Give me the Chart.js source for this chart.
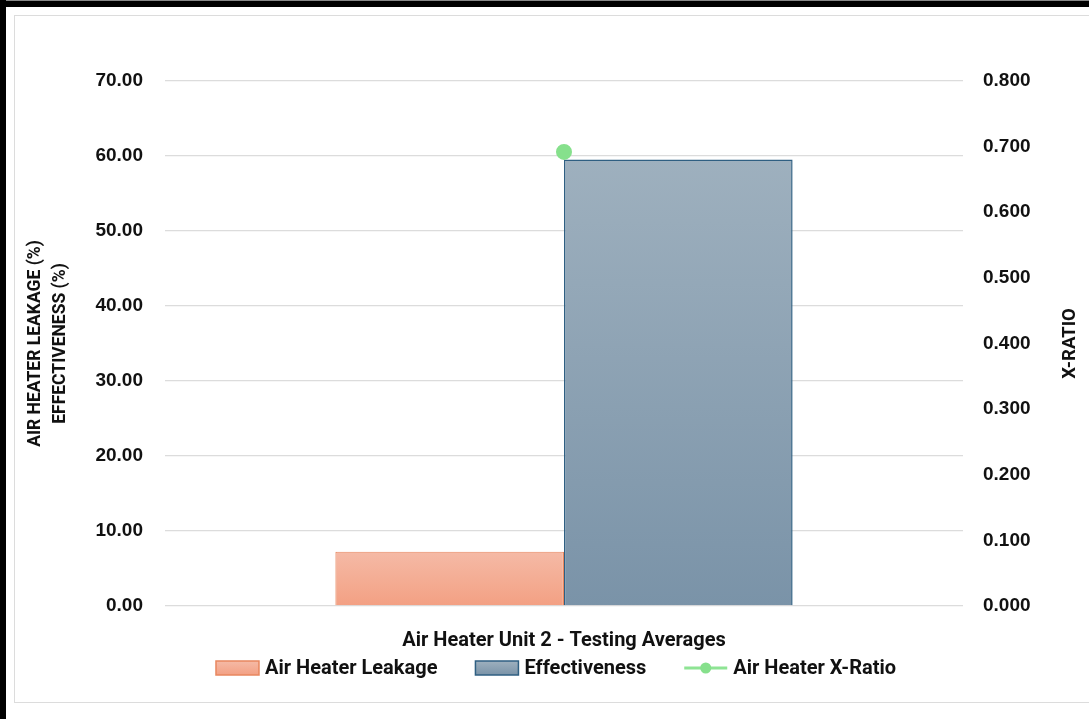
<!DOCTYPE html>
<html>
<head>
<meta charset="utf-8">
<title>Air Heater Unit 2 - Testing Averages</title>
<script src="https://cdn.jsdelivr.net/npm/chart.js@4/dist/chart.umd.min.js"></script>
<style>
  html, body { margin: 0; padding: 0; background: #ffffff; }
  body { width: 1089px; height: 719px; position: relative; overflow: hidden; }
  #topbar { position: absolute; left: 0; top: 1px; width: 1089px; height: 6px; background: #000; }
  #sidebar { position: absolute; left: 0; top: 0; width: 6px; height: 719px; background: #000; }
  #topline { position: absolute; left: 0; top: 0; width: 1089px; height: 1px; background: #888; }
  #frame { position: absolute; left: 14px; top: 15px; width: 1100px; height: 686px; border: 1.5px solid #dcdcdc; }
  #wrap { position: absolute; left: 0; top: 0; width: 1089px; height: 719px; }
</style>
</head>
<body>
<div id="topline"></div>
<div id="topbar"></div>
<div id="sidebar"></div>
<div id="frame"></div>
<div id="wrap"><canvas id="chart" width="1089" height="719"></canvas></div>
<script>
// Category and series values
const categories = ['Air Heater Unit 2 - Testing Averages'];
const leakage = [7.25];
const effectiveness = [59.55];
const xRatio = [0.692];

// Axis ranges / tick steps
const leftTicks = { min: 0, max: 70, step: 10 };
const rightTicks = { min: 0, max: 0.8, step: 0.1 };

const seriesNames = ['Air Heater Leakage', 'Effectiveness', 'Air Heater X-Ratio'];

const tickFont = { family: '"Liberation Sans", Arial, sans-serif', size: 19, weight: 'bold' };
const labelFamily = 'Roboto, "Liberation Sans", sans-serif';

function barGradient(top, bottom) {
  return function (ctx) {
    const chart = ctx.chart;
    if (!chart.chartArea || ctx.dataIndex === undefined) return bottom;
    const y = chart.scales.y;
    const v = ctx.dataset.data[ctx.dataIndex];
    const y0 = y.getPixelForValue(v);
    const y1 = y.getPixelForValue(0);
    const g = chart.ctx.createLinearGradient(0, y0, 0, y1);
    g.addColorStop(0, top);
    g.addColorStop(1, bottom);
    return g;
  };
}

// Legend drawn beneath the category label: boxes for bars, line+dot for the ratio
const bottomLegend = {
  id: 'bottomLegend',
  afterDraw(chart) {
    const ctx = chart.ctx;
    const y = 668;
    ctx.save();
    ctx.font = 'bold 20px ' + labelFamily;
    ctx.textBaseline = 'middle';
    ctx.textAlign = 'left';
    const sym = 43, gapSym = 6, gapItem = 38;
    const items = chart.data.datasets.map(ds => ({ ds, w: sym + gapSym + ctx.measureText(ds.label).width }));
    const total = items.reduce((s, it) => s + it.w, 0) + gapItem * (items.length - 1);
    let x = 556 - total / 2;
    items.forEach(it => {
      const ds = it.ds;
      if (ds.type === 'line') {
        ctx.strokeStyle = ds.borderColor;
        ctx.lineWidth = 3;
        ctx.beginPath();
        ctx.moveTo(x, y);
        ctx.lineTo(x + sym, y);
        ctx.stroke();
        ctx.fillStyle = ds.pointBackgroundColor;
        ctx.beginPath();
        ctx.arc(x + sym / 2, y, 5.5, 0, Math.PI * 2);
        ctx.fill();
      } else {
        const g = ctx.createLinearGradient(0, y - 7, 0, y + 7);
        g.addColorStop(0, ds.legendTop);
        g.addColorStop(1, ds.legendBottom);
        ctx.fillStyle = g;
        ctx.fillRect(x, y - 7, sym, 14);
        ctx.strokeStyle = ds.borderColor;
        ctx.lineWidth = 1.5;
        ctx.strokeRect(x, y - 7, sym, 14);
      }
      ctx.fillStyle = '#111111';
      ctx.fillText(ds.label, x + sym + gapSym, y + 1);
      x += it.w + gapItem;
    });
    ctx.restore();
  }
};

// Right-hand axis title, reading bottom-to-top like the left one
const rightTitle = {
  id: 'rightTitle',
  afterDraw(chart) {
    const s = chart.scales.y1;
    const ctx = chart.ctx;
    ctx.save();
    ctx.translate(1070, (s.top + s.bottom) / 2);
    ctx.rotate(-Math.PI / 2);
    ctx.font = 'bold 18.5px ' + labelFamily;
    ctx.fillStyle = '#111111';
    ctx.textAlign = 'center';
    ctx.textBaseline = 'middle';
    ctx.fillText('X-RATIO', 0, 0);
    ctx.restore();
  }
};

new Chart(document.getElementById('chart'), {
  data: {
    labels: categories,
    datasets: [
      {
        type: 'bar',
        label: seriesNames[0],
        data: leakage,
        yAxisID: 'y',
        backgroundColor: barGradient('#f5baa6', '#f3a083'),
        legendTop: '#f5baa6',
        legendBottom: '#f3a083',
        borderColor: '#e8875f',
        borderWidth: 1.2,
        categoryPercentage: 0.573,
        barPercentage: 1,
        order: 1
      },
      {
        type: 'bar',
        label: seriesNames[1],
        data: effectiveness,
        yAxisID: 'y',
        backgroundColor: barGradient('#9eb0be', '#7a93a8'),
        legendTop: '#9eb0be',
        legendBottom: '#7a93a8',
        borderColor: '#2f5f82',
        borderWidth: 1.5,
        categoryPercentage: 0.573,
        barPercentage: 1,
        order: 1
      },
      {
        type: 'line',
        label: seriesNames[2],
        data: xRatio,
        yAxisID: 'y1',
        borderColor: '#8ee494',
        pointBackgroundColor: '#86e08c',
        pointBorderColor: '#86e08c',
        pointRadius: 6.5,
        borderWidth: 3,
        order: 0
      }
    ]
  },
  options: {
    responsive: false,
    animation: false,
    devicePixelRatio: 1,
    layout: { padding: { left: 0, right: 0, top: 81, bottom: 68 } },
    plugins: {
      legend: { display: false },
      tooltip: { enabled: false }
    },
    scales: {
      x: {
        grid: { display: false },
        border: { display: false },
        ticks: { color: '#111111', font: { family: labelFamily, size: 20, weight: 'bold' }, padding: 15 },
        afterFit(scale) { scale.height = 45; }
      },
      y: {
        position: 'left',
        min: leftTicks.min,
        max: leftTicks.max,
        ticks: {
          stepSize: leftTicks.step,
          padding: 22,
          color: '#111111',
          font: tickFont,
          callback: v => Number(v).toFixed(2)
        },
        grid: { color: '#dcdcdc', lineWidth: 1.3, drawTicks: false },
        border: { display: false },
        title: {
          display: true,
          text: ['AIR HEATER LEAKAGE (%)', 'EFFECTIVENESS (%)'],
          color: '#111111',
          font: { family: labelFamily, size: 17.5, weight: 'bold', lineHeight: 1.45 },
          padding: { top: 23 }
        },
        afterFit(scale) { scale.width = 165; }
      },
      y1: {
        position: 'right',
        min: rightTicks.min,
        max: rightTicks.max,
        ticks: {
          stepSize: rightTicks.step,
          padding: 20,
          color: '#111111',
          font: tickFont,
          callback: v => Number(v).toFixed(3)
        },
        grid: { display: false, drawTicks: false },
        border: { display: false },
        afterFit(scale) { scale.width = 126; }
      }
    }
  },
  plugins: [bottomLegend, rightTitle]
});
</script>
</body>
</html>
